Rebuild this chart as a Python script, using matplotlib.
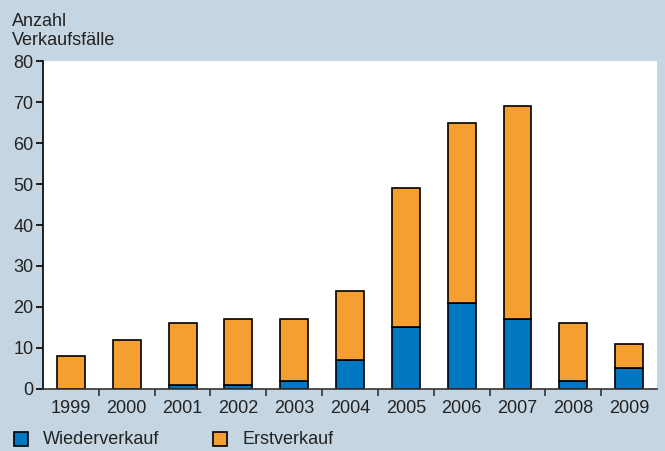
import numpy as np
import matplotlib.pyplot as plt
from matplotlib.patches import Rectangle

# Data
years = ['1999', '2000', '2001', '2002', '2003', '2004', '2005', '2006', '2007', '2008', '2009']
wiederverkauf = [0, 0, 1, 1, 2, 7, 15, 21, 17, 2, 5]
erstverkauf = [8, 12, 15, 16, 15, 17, 34, 44, 52, 14, 6]

bg = '#c5d6e2'
blue = '#0077c0'
orange = '#f49f2f'
txt = '#222222'

plt.rcParams['font.family'] = ['Liberation Sans', 'DejaVu Sans']

fig = plt.figure(figsize=(6.65, 4.51), dpi=100, facecolor=bg)
ax = fig.add_axes([0.0647, 0.1375, 0.9233, 0.7272])
ax.set_facecolor('white')

x = np.arange(len(years))
ax.bar(x, wiederverkauf, width=0.5, color=blue, edgecolor='black', linewidth=1.2, label='Wiederverkauf')
ax.bar(x, erstverkauf, width=0.5, bottom=wiederverkauf, color=orange, edgecolor='black', linewidth=1.2, label='Erstverkauf')

ax.set_xlim(-0.5, len(years) - 0.5)
ax.set_ylim(0, 80)
ax.set_yticks(range(0, 81, 10))
ax.set_xticks(x)
ax.set_xticklabels(years)
ax.set_xticks(np.arange(-0.5, len(years) - 0.5, 1)[1:], minor=True)
ax.tick_params(axis='x', which='major', length=0, labelsize=13, pad=8, colors=txt)
ax.tick_params(axis='x', which='minor', length=5, direction='out', width=1.2, color='#333333')
ax.tick_params(axis='y', length=5, width=1.2, labelsize=13, colors=txt, pad=2)
ax.tick_params(axis='y', color='black')

for side in ['top', 'right']:
    ax.spines[side].set_visible(False)
ax.spines['left'].set_linewidth(1.2)
ax.spines['bottom'].set_linewidth(1.2)
ax.spines['bottom'].set_color('#333333')

fig.text(12 / 665, 1 - 31 / 451, 'Anzahl\nVerkaufsfälle', fontsize=13, va='center', ha='left',
         color=txt, linespacing=1.2)

# Legend
for px, label, col in [(14, 'Wiederverkauf', blue), (213, 'Erstverkauf', orange)]:
    fig.add_artist(Rectangle((px / 665, 1 - 446 / 451), 14 / 665, 14 / 451,
                             transform=fig.transFigure, facecolor=col, edgecolor='black', linewidth=1.2))
    fig.text((px + 29) / 665, 1 - 439 / 451, label, fontsize=13, va='center', ha='left', color=txt)

plt.savefig('out.png', dpi=100, facecolor=bg)
